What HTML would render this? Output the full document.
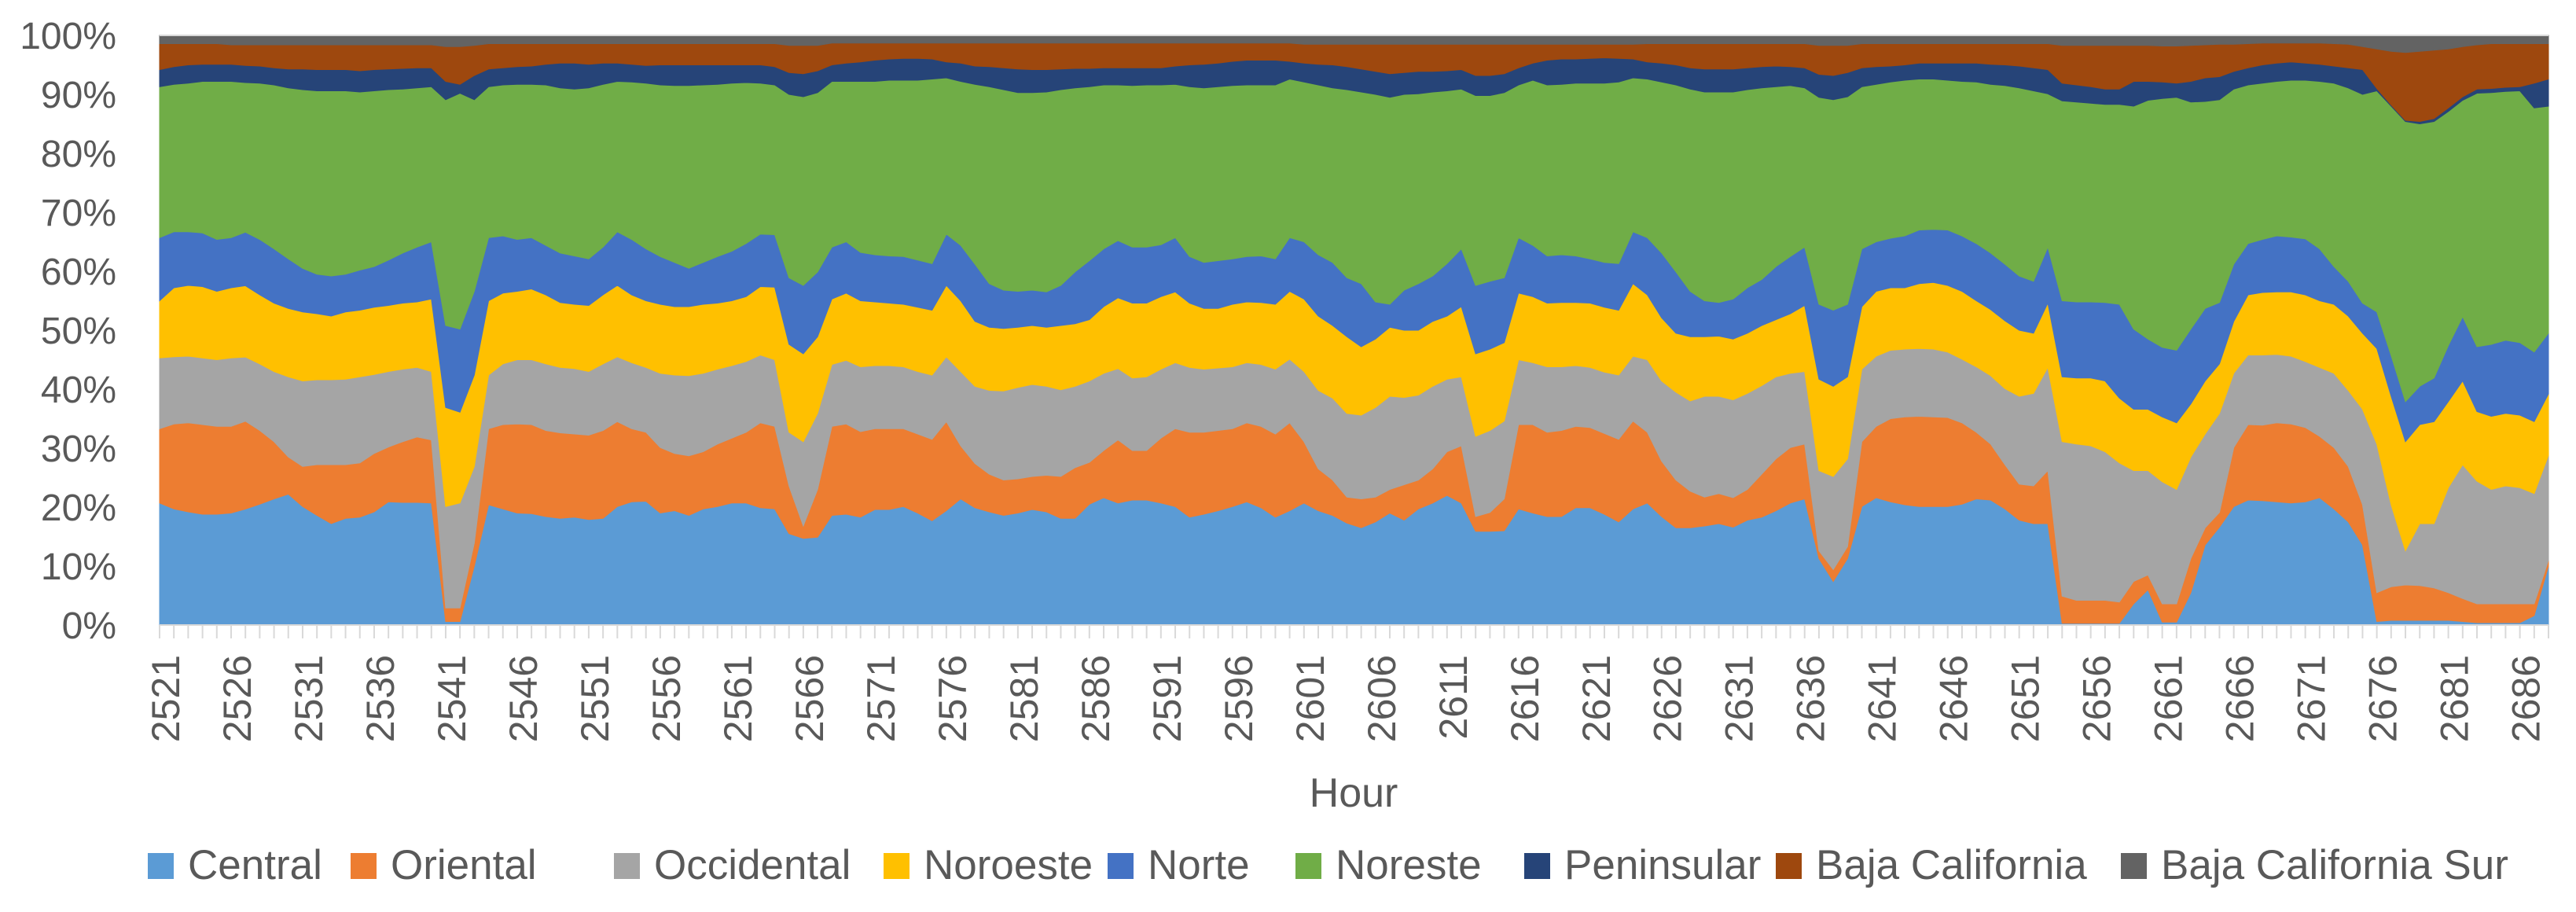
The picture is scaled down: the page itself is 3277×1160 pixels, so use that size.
<!DOCTYPE html>
<html>
<head>
<meta charset="utf-8">
<style>
html,body{margin:0;padding:0;background:#fff;}
svg{display:block;}
text{font-family:"Liberation Sans",Arial,sans-serif;fill:#595959;}
</style>
</head>
<body>
<svg id="chart" width="3277" height="1160" viewBox="0 0 3277 1160" xmlns="http://www.w3.org/2000/svg">
  <rect x="0" y="0" width="3277" height="1160" fill="#ffffff"/>
  <g id="areas"></g>
  <g id="axes"></g>
  <g id="legend"></g>
</svg>
<script>
const startHour = 2521;
const central = [
20.7,19.7,19.2,18.8,18.8,19.0,19.7,20.5,21.4,22.2,
20.1,18.6,17.2,18.1,18.3,19.2,20.9,20.8,20.8,20.7,
0.6,0.6,10.0,20.4,19.7,19.0,18.9,18.4,18.1,18.3,
17.9,18.1,20.1,20.9,21.0,19.0,19.4,18.6,19.7,20.1,
20.7,20.7,19.9,19.7,15.5,14.7,14.9,18.6,18.8,18.3,
19.6,19.6,20.1,19.0,17.7,19.4,21.4,19.9,19.2,18.6,
19.0,19.6,19.2,18.1,18.1,20.5,21.6,20.7,21.2,21.2,
20.7,20.1,18.3,18.8,19.4,20.1,20.9,19.9,18.3,19.4,
20.7,19.4,18.6,17.3,16.5,17.5,19.0,17.8,19.7,20.7,
22.0,20.7,15.9,15.9,16.0,19.7,19.0,18.4,18.4,19.9,
19.9,18.8,17.5,19.7,20.7,18.4,16.5,16.5,16.8,17.2,
16.6,17.8,18.3,19.4,20.7,21.4,11.3,7.4,11.3,20.1,
21.6,20.9,20.4,20.1,20.1,20.1,20.5,21.4,21.2,19.7,
17.8,17.2,17.2,0.3,0.3,0.3,0.3,0.3,3.6,6.0,
0.5,0.5,5.5,13.6,16.6,20.1,21.2,21.1,20.9,20.7,
20.9,21.6,19.7,17.5,13.6,0.6,0.8,0.8,0.8,0.8,
0.8,0.6,0.4,0.4,0.4,0.4,1.6,10.0];
const oriental = [
12.6,14.4,15.1,15.2,14.9,14.7,14.9,12.5,9.7,6.3,
6.8,8.6,10.0,9.1,9.2,9.9,9.3,10.3,11.1,10.7,
2.3,2.3,3.9,12.9,14.3,15.1,15.1,14.6,14.5,14.1,
14.3,14.9,14.4,12.4,11.7,11.1,9.7,10.1,9.7,10.6,
11.0,12.0,14.4,14.0,8.1,2.1,8.1,15.1,15.3,14.5,
13.7,13.7,13.2,13.4,13.8,15.1,9.0,7.5,6.4,6.0,
5.8,5.6,6.2,7.1,8.6,7.1,8.0,10.7,8.4,8.4,
11.0,13.2,14.4,13.9,13.6,13.2,13.4,13.8,14.1,14.9,
10.4,7.1,6.0,4.4,4.9,4.2,4.0,6.0,4.9,5.8,
7.4,9.7,2.5,3.2,5.4,14.3,15.0,14.3,14.6,13.8,
13.6,13.7,14.0,14.9,12.0,9.4,8.1,6.2,4.9,5.1,
5.0,5.2,7.3,8.8,9.4,9.3,1.3,2.0,2.0,11.0,
12.1,14.1,14.9,15.3,15.2,15.1,13.8,11.3,9.5,7.5,
6.1,6.4,9.0,4.6,3.9,3.9,3.9,3.6,3.8,2.5,
3.1,3.1,5.8,2.9,2.5,10.0,12.8,12.8,13.4,13.4,
12.6,10.4,10.4,9.4,6.8,4.9,5.7,6.0,5.9,5.5,
4.7,3.9,3.2,3.2,3.2,3.2,2.0,1.0];
const occidental = [
12.0,11.4,11.3,11.3,11.3,11.6,10.9,11.3,11.9,13.6,
14.5,14.4,14.4,14.5,14.6,13.4,12.8,12.3,11.8,11.6,
17.2,17.8,13.0,9.1,10.3,10.9,11.0,11.3,11.1,11.1,
10.8,11.3,11.0,11.2,11.0,12.6,13.3,13.6,13.3,12.7,
12.3,12.0,11.5,11.3,9.1,14.3,12.9,10.5,10.8,11.0,
10.7,10.7,10.5,10.6,10.9,11.0,12.6,13.1,14.2,15.1,
15.5,15.6,15.1,14.7,13.8,13.8,13.1,12.1,12.3,12.5,
11.7,11.2,11.0,10.7,10.6,10.5,10.2,10.5,11.0,10.8,
11.9,13.3,13.9,14.2,14.2,15.2,15.8,14.8,14.4,14.0,
12.3,11.7,13.6,13.9,13.2,11.0,10.5,11.1,10.8,10.3,
10.2,10.4,10.9,11.0,12.3,13.6,14.9,15.3,17.1,16.5,
16.6,16.3,15.0,13.9,12.6,12.3,13.6,15.8,14.9,12.3,
11.9,11.6,11.5,11.5,11.5,11.1,10.8,11.1,11.6,12.9,
14.9,15.7,17.5,26.2,26.5,26.2,25.2,23.6,18.8,17.7,
20.7,19.4,17.2,15.9,16.8,12.6,11.8,11.9,11.6,11.5,
11.2,11.7,12.6,12.9,16.2,25.2,13.9,5.8,10.5,10.9,
17.8,22.7,20.8,19.4,20.0,19.7,18.7,17.8];
const noroeste = [
9.7,11.7,12.0,12.1,11.6,11.9,12.1,11.7,11.6,11.6,
11.7,11.2,10.8,11.4,11.3,11.4,11.2,11.2,11.1,12.3,
16.8,15.4,15.5,12.6,12.0,11.6,12.0,11.7,11.0,10.9,
11.2,11.7,12.1,11.5,11.3,11.7,11.6,11.7,11.7,11.2,
11.0,11.0,11.6,12.3,14.9,14.9,13.0,11.1,11.4,11.2,
10.8,10.6,10.6,10.9,11.0,12.1,12.0,11.0,10.7,10.6,
10.2,10.0,10.0,10.9,10.6,10.4,11.3,12.0,12.7,12.5,
12.3,12.0,10.9,10.3,10.1,10.6,10.3,10.5,11.0,11.5,
12.3,12.6,12.3,13.0,11.6,11.6,11.7,11.4,11.0,11.0,
10.7,11.9,14.0,13.8,13.3,11.3,11.2,10.8,10.9,10.7,
10.9,11.0,11.0,12.3,11.0,10.7,10.0,10.9,10.1,10.2,
10.3,10.2,10.2,9.7,10.1,11.2,15.5,15.3,13.9,10.6,
11.0,10.6,10.4,11.0,11.3,11.3,11.5,11.2,11.2,11.5,
11.2,10.2,10.9,11.0,11.2,11.5,12.0,11.0,10.4,10.4,
11.0,11.3,9.0,9.0,8.4,8.8,10.2,10.6,10.6,10.9,
11.3,11.3,11.7,12.6,12.9,16.2,18.4,18.5,16.8,17.3,
14.6,14.2,11.8,12.4,12.3,12.3,12.2,10.4];
const norte = [
10.7,9.5,9.1,9.1,8.8,8.5,9.1,9.4,9.2,8.4,
7.4,6.7,6.8,6.4,6.8,6.9,7.7,8.5,9.3,9.7,
13.9,14.1,14.2,10.7,9.7,8.8,8.7,8.4,8.4,8.2,
7.9,8.1,9.1,9.4,8.8,8.1,7.5,6.5,7.1,7.9,
8.4,9.0,8.9,8.9,11.3,11.6,11.0,8.8,8.7,8.2,
8.0,8.0,8.1,8.0,7.9,8.7,9.4,9.7,7.4,6.5,
6.1,6.0,6.0,6.8,8.8,10.0,9.8,9.7,9.5,9.5,
8.8,9.2,7.9,7.8,8.1,7.7,7.7,7.9,7.7,9.1,
9.7,10.4,10.7,10.0,10.7,6.3,3.9,6.8,7.9,7.7,
8.9,9.8,11.6,11.5,11.0,9.4,8.7,8.0,8.1,7.9,
7.5,7.6,7.9,8.8,9.7,11.0,10.4,7.7,6.1,5.7,
6.8,7.7,7.8,9.0,9.7,9.9,12.7,12.9,12.3,9.8,
8.4,8.4,8.8,9.1,9.0,9.4,9.4,9.7,9.6,9.6,
9.2,8.8,9.5,12.9,12.9,12.9,13.3,15.9,13.6,11.9,
11.8,12.3,12.7,12.3,10.4,9.7,8.7,9.0,9.5,9.3,
9.5,8.8,6.4,5.9,5.1,6.2,6.9,6.8,6.5,7.4,
9.5,10.9,11.0,12.2,12.4,12.3,11.8,10.3];
const noreste = [
25.6,25.0,25.2,25.7,26.8,26.5,25.4,26.5,27.8,29.0,
30.3,31.1,31.4,31.1,30.2,29.8,28.9,27.8,27.0,26.3,
38.3,40.0,32.5,25.6,25.6,26.3,26.0,27.2,28.0,28.3,
29.0,27.6,25.5,26.7,28.1,29.1,30.0,31.0,30.1,29.2,
28.5,27.3,25.6,25.4,31.1,32.0,30.4,28.1,27.2,29.0,
29.4,29.8,29.9,30.5,31.3,26.5,27.8,30.5,33.4,34.0,
33.7,33.5,33.9,33.2,31.2,29.5,27.8,26.4,27.4,27.5,
27.1,26.0,28.8,29.6,29.5,29.4,29.1,29.0,29.5,26.9,
27.1,28.8,29.6,31.9,32.5,35.2,35.1,33.2,32.2,31.2,
29.3,27.1,32.2,31.5,31.4,25.9,28.0,29.0,28.9,29.3,
29.8,30.4,30.8,26.1,26.9,29.0,31.7,34.3,35.4,35.7,
35.1,33.6,32.5,30.5,29.0,27.0,35.1,35.7,35.2,27.5,
26.7,26.5,26.4,25.6,25.5,25.4,26.2,27.4,28.6,30.3,
31.9,32.3,26.0,33.9,33.9,33.7,33.6,33.9,37.8,40.5,
42.2,42.9,38.5,35.1,34.4,29.7,26.9,26.5,26.2,26.6,
26.9,28.4,31.1,32.8,35.4,37.5,42.3,47.5,44.5,43.5,
39.7,36.7,43.0,42.7,42.2,42.7,41.4,38.5];
const peninsular = [
2.9,3.0,3.1,2.9,2.9,2.9,2.9,2.9,2.9,3.2,
3.5,3.6,3.6,3.6,3.6,3.6,3.5,3.5,3.4,3.2,
3.1,1.5,4.1,3.0,2.9,3.0,3.1,3.5,4.2,4.4,
4.0,3.6,3.1,3.0,3.0,3.4,3.5,3.5,3.4,3.3,
3.1,3.0,3.1,3.1,3.7,3.9,3.7,2.8,3.1,3.3,
3.6,3.6,3.7,3.7,3.4,2.7,3.1,3.1,3.4,3.7,
4.0,3.9,3.8,3.5,3.3,3.1,2.9,2.9,3.0,2.9,
2.9,3.1,3.7,4.0,4.0,4.1,4.2,4.2,4.2,3.0,
3.2,3.5,3.9,3.9,3.9,3.9,4.0,3.7,3.8,3.5,
3.4,3.3,3.4,3.4,3.2,2.9,2.9,4.2,4.3,4.1,
4.2,4.3,4.0,3.2,2.9,3.2,3.4,3.6,3.9,3.9,
3.9,3.7,3.6,3.5,3.2,3.4,3.9,4.1,4.1,3.2,
3.0,2.7,2.6,2.7,2.7,2.9,3.1,3.2,3.4,3.5,
3.7,3.9,4.1,3.0,2.9,2.8,2.6,2.6,4.2,3.2,
2.8,2.4,3.5,4.0,3.9,3.0,2.9,3.1,3.1,3.1,
2.9,2.9,2.9,3.4,4.2,0.4,0.2,0.2,0.4,0.5,
0.6,0.6,0.7,0.7,0.7,0.7,4.2,4.6];
const bajaCalifornia = [
4.4,3.9,3.6,3.5,3.5,3.3,3.5,3.6,3.9,4.1,
4.1,4.2,4.2,4.2,4.4,4.2,4.1,4.0,3.9,3.9,
5.9,6.4,5.1,4.3,4.1,3.9,3.8,3.5,3.3,3.3,
3.5,3.3,3.3,3.5,3.7,3.6,3.6,3.6,3.6,3.6,
3.6,3.6,3.6,3.9,4.6,4.8,4.3,3.7,3.4,3.2,
2.9,2.7,2.6,2.6,2.7,3.2,3.4,3.9,4.0,4.2,
4.4,4.5,4.5,4.4,4.3,4.3,4.2,4.2,4.2,4.2,
4.2,3.9,3.7,3.6,3.4,3.1,2.9,2.9,2.9,3.1,
3.2,3.4,3.5,3.8,4.2,4.6,5.0,4.8,4.6,4.6,
4.5,4.3,5.3,5.3,5.0,4.0,3.2,2.7,2.5,2.5,
2.4,2.3,2.4,2.5,3.1,3.3,3.6,4.1,4.3,4.3,
4.3,4.1,3.9,3.8,3.9,4.1,4.9,5.1,4.6,4.1,
3.9,3.8,3.6,3.3,3.3,3.3,3.3,3.3,3.5,3.6,
3.8,4.1,4.4,6.4,6.7,7.0,7.4,7.4,6.1,6.1,
6.1,6.3,6.1,5.6,5.5,4.6,4.1,3.7,3.4,3.2,
3.4,3.6,3.8,4.0,3.9,6.7,9.1,11.5,11.9,11.6,
10.0,8.5,7.5,7.6,7.4,7.3,6.7,6.0];
const bajaCaliforniaSur = [
1.4,1.4,1.4,1.4,1.4,1.6,1.6,1.6,1.6,1.6,
1.6,1.6,1.6,1.6,1.6,1.6,1.6,1.6,1.6,1.6,
1.9,1.9,1.7,1.4,1.4,1.4,1.4,1.4,1.4,1.4,
1.4,1.4,1.4,1.4,1.4,1.4,1.4,1.4,1.4,1.4,
1.4,1.4,1.4,1.4,1.7,1.7,1.7,1.3,1.3,1.3,
1.3,1.3,1.3,1.3,1.3,1.3,1.3,1.3,1.3,1.3,
1.3,1.3,1.3,1.3,1.3,1.3,1.3,1.3,1.3,1.3,
1.3,1.3,1.3,1.3,1.3,1.3,1.3,1.3,1.3,1.3,
1.5,1.5,1.5,1.5,1.5,1.5,1.5,1.5,1.5,1.5,
1.5,1.5,1.5,1.5,1.5,1.5,1.5,1.5,1.5,1.5,
1.5,1.5,1.5,1.5,1.4,1.4,1.4,1.4,1.4,1.4,
1.4,1.4,1.4,1.4,1.4,1.4,1.7,1.7,1.7,1.4,
1.4,1.4,1.4,1.4,1.4,1.4,1.4,1.4,1.4,1.4,
1.4,1.4,1.4,1.7,1.7,1.7,1.7,1.7,1.7,1.7,
1.8,1.8,1.7,1.6,1.5,1.5,1.4,1.3,1.3,1.3,
1.3,1.3,1.4,1.5,1.9,2.3,2.7,2.9,2.7,2.5,
2.3,1.9,1.6,1.4,1.4,1.4,1.4,1.4];
const seriesNames = ["Central","Oriental","Occidental","Noroeste","Norte","Noreste","Peninsular","Baja California","Baja California Sur"];
const seriesColors = ["#5B9BD5","#ED7D31","#A5A5A5","#FFC000","#4472C4","#70AD47","#264478","#9E480E","#636363"];
const yTickLabels = ["0%","10%","20%","30%","40%","50%","60%","70%","80%","90%","100%"];
const legendX = [188,446,781,1124,1409,1648,1939,2259,2698];

const allSeries = [central,oriental,occidental,noroeste,norte,noreste,peninsular,bajaCalifornia,bajaCaliforniaSur];
const NS = "http://www.w3.org/2000/svg";
const L = 203, R = 3242, T = 45, B = 795;
const n = central.length;
function xPos(i){ return L + i*(R-L)/(n-1); }
function yPos(p){ return B - (B-T)*p/100; }
function mk(tag, attrs, parent){ const e=document.createElementNS(NS,tag); for(const k in attrs) e.setAttribute(k,attrs[k]); parent.appendChild(e); return e; }

const areas = document.getElementById('areas');
const axes = document.getElementById('axes');
const legend = document.getElementById('legend');

// stacked percentages
const totals = [];
for (let i=0;i<n;i++){ let s=0; for (const ser of allSeries) s+=ser[i]; totals.push(s); }
let lower = new Array(n).fill(0);
allSeries.forEach((ser, si) => {
  const upper = lower.map((v,i)=> v + ser[i]/totals[i]*100);
  let d = "M" + xPos(0).toFixed(2) + "," + yPos(upper[0]).toFixed(2);
  for (let i=1;i<n;i++) d += " L" + xPos(i).toFixed(2) + "," + yPos(upper[i]).toFixed(2);
  for (let i=n-1;i>=0;i--) d += " L" + xPos(i).toFixed(2) + "," + yPos(lower[i]).toFixed(2);
  d += " Z";
  const p = mk('path', {d:d, fill:seriesColors[si], stroke:seriesColors[si], 'stroke-width':'1'}, areas);
  
  
  lower = upper;
});

// top border line and x axis
const topLine = mk('line', {x1:L, x2:R, y1:T, y2:T, stroke:'#d9d9d9', 'stroke-width':2}, axes);


const xAxis = mk('line', {x1:L, x2:R, y1:B, y2:B, stroke:'#d9d9d9', 'stroke-width':2}, axes);



for (let i=0;i<n;i++){
  const t = mk('line', {x1:xPos(i), x2:xPos(i), y1:B, y2:B+17, stroke:'#d9d9d9', 'stroke-width':2}, axes);
  
  
  if (i % 5 === 0){
    const cx = xPos(i) + 7 + 18;
    const lab = mk('text', {x:0, y:0, 'font-size':50, 'text-anchor':'end', transform:'translate('+cx.toFixed(1)+',833) rotate(-90)'}, axes);
    lab.textContent = String(startHour + i);
    
    
  }
}

yTickLabels.forEach((lbl, k) => {
  const t = mk('text', {x:148, y:(yPos(k*10)+17).toFixed(1), 'font-size':48, 'text-anchor':'end'}, axes);
  t.textContent = lbl;
  
  
});

const xt = mk('text', {x:1722, y:1026, 'font-size':52, 'text-anchor':'middle'}, axes);
xt.textContent = "Hour";



seriesNames.forEach((nm, si) => {
  const g = mk('g', {}, legend);
  
  
  const sq = mk('rect', {x:legendX[si], y:1085, width:33, height:33, fill:seriesColors[si]}, g);
  
  
  const tx = mk('text', {x:legendX[si]+51, y:1118, 'font-size':53}, g);
  tx.textContent = nm;
  
  
});
</script>
</body>
</html>
